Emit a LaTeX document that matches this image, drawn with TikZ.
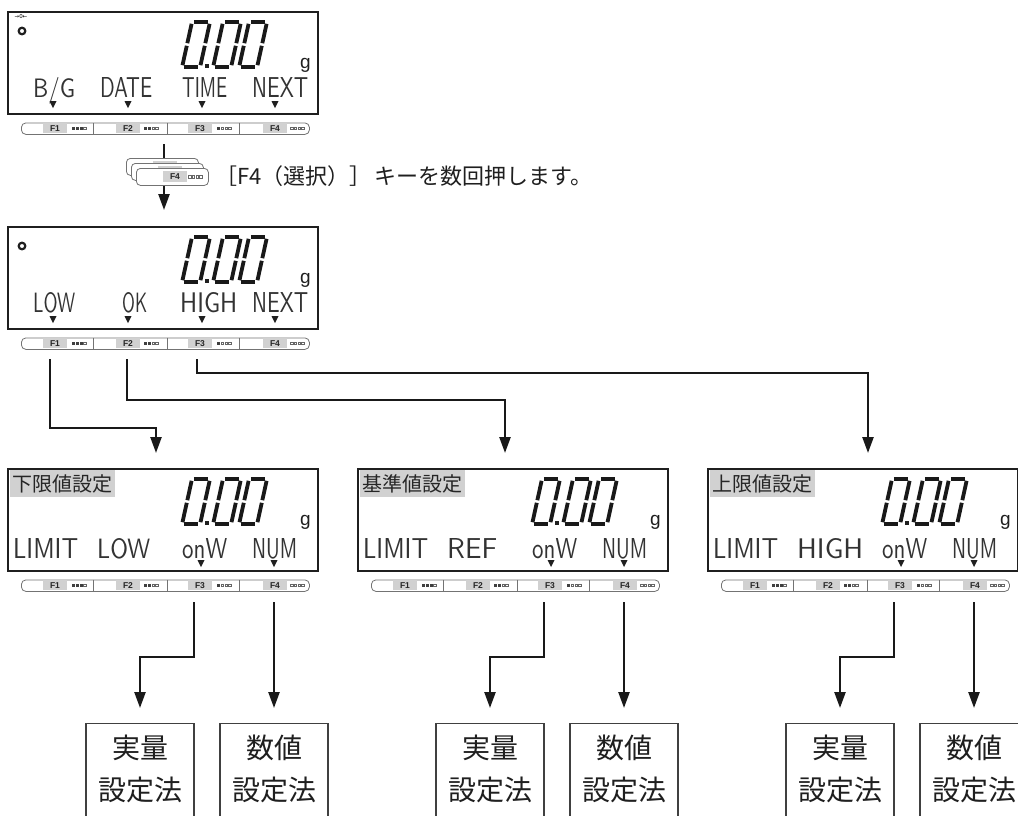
\documentclass[tikz,border=0pt]{standalone}
\usepackage{fontspec}
\usepackage{graphicx}
\newfontfamily\jpfont{Noto Sans CJK JP}
\newfontfamily\arialf{Liberation Sans}
\newfontfamily\djv{DejaVu Sans}
\usetikzlibrary{arrows.meta}

\tikzset{
  screen/.style={draw=black!88, line width=2pt, fill=white, minimum width=310pt, minimum height=102pt, anchor=north west, inner sep=0pt},
  seg/.style={line width=3.8pt, draw=black!90},
  strip/.style={draw=black!55, line width=0.8pt, rounded corners=4.5pt, minimum width=288pt, minimum height=11.5pt, anchor=north west, inner sep=0pt, fill=white},
  stripdiv/.style={draw=black!55, line width=0.8pt},
  flab/.style={fill=black!18, minimum width=24pt, minimum height=10pt, inner sep=0pt, font=\arialf\bfseries\fontsize{8.5}{9}\selectfont, text=black!85},
  lcd/.style={anchor=base west, inner sep=0pt, text=black!80},
  tri/.style={fill=black!88},
  conn/.style={line width=2.4pt, draw=black!90, -{Triangle[length=16pt,width=11pt]}},
  mbox/.style={draw=black!75, line width=1.4pt, minimum width=108pt, minimum height=120pt, anchor=north, inner sep=0pt},
  mtext/.style={font=\jpfont\fontsize{28}{42}\selectfont, align=center, inner sep=0pt, text=black!88},
  ttl/.style={fill=black!18, anchor=north west, inner xsep=2.5pt, inner ysep=0pt, minimum height=27pt, font=\jpfont\fontsize{20}{20}\selectfont, text=black!85},
  unitg/.style={anchor=base west, inner sep=0pt, font=\arialf\fontsize{19}{19}\selectfont, text=black!88},
  keyic/.style={draw=black!55, line width=0.8pt, rounded corners=4pt, fill=white, minimum width=72pt, minimum height=17pt, anchor=north west, inner sep=0pt},
  hintst/.style={anchor=west, inner sep=0pt, font=\jpfont\fontsize{22}{22}\selectfont, text=black!88},
}

\newcommand\SegZero[2]{%
  \begin{scope}[shift={(#1,#2)}, xslant=0.22]
    \draw[seg] (1.8,0) -- (16.2,0);
    \draw[seg] (18,1.8) -- (18,21.2);
    \draw[seg] (18,23.8) -- (18,43.2);
    \draw[seg] (1.8,45) -- (16.2,45);
    \draw[seg] (0,23.8) -- (0,43.2);
    \draw[seg] (0,1.8) -- (0,21.2);
  \end{scope}}

\newcommand\Squares[3]{%
  \foreach \i in {0,1,2,3}{%
    \ifnum\i<#3\relax
      \fill[black!75] (#1+\i*3.8,#2-1.5) rectangle ++(3,3);
    \else
      \draw[black!60,line width=0.5pt] (#1+\i*3.8+0.25,#2-1.25) rectangle ++(2.5,2.5);
    \fi}}

\newcommand\Tri[2]{\fill[tri] (#1-3.5,#2) -- (#1+3.5,#2) -- (#1,#2+7) -- cycle;}

\newcommand\Lcd[5]{\node[lcd] (#1) at (#2,#3) {\resizebox{#4pt}{20pt}{\sffamily #5}};}

% name, left, top
\newcommand\Screen[3]{%
  \node[screen] (#1) at (#2,#3) {};
  \SegZero{#2+185}{#3+11}
  \SegZero{#2+216}{#3+11}
  \SegZero{#2+242}{#3+11}
  \fill[black!88] (#2+197.5,#3+52.5) rectangle ++(4,4);
  \node[unitg] (#1-g) at (#2+293,#3+57) {g};
  \node[strip] (#1-s) at (#2+14,#3+111.5) {};
  \draw[stripdiv] (#2+86,#3+111.5) -- ++(0,11.5);
  \draw[stripdiv] (#2+160,#3+111.5) -- ++(0,11.5);
  \draw[stripdiv] (#2+232,#3+111.5) -- ++(0,11.5);
  \node[flab] (#1-f1) at (#2+48,#3+117.25) {F1};
  \node[flab] (#1-f2) at (#2+121,#3+117.25) {F2};
  \node[flab] (#1-f3) at (#2+193,#3+117.25) {F3};
  \node[flab] (#1-f4) at (#2+268,#3+117.25) {F4};
  \Squares{#2+65}{#3+117.25}{3}
  \Squares{#2+137}{#3+117.25}{2}
  \Squares{#2+210}{#3+117.25}{1}
  \Squares{#2+283}{#3+117.25}{0}
}

\newcommand\KeyIcon[3]{%
  \node[keyic] (#1) at (#2,#3) {};
  \node[flab, minimum height=11pt] (#1-l) at (#2+39,#3+8.5) {F4};
  \Squares{#2+52}{#3+8.5}{0}
}

% name, left
\newcommand\Lower[2]{%
  \coordinate (#1q3) at (#2+187,602);
  \coordinate (#1q4) at (#2+267,602);
  \coordinate (#1t1) at (#2+133,708);
  \coordinate (#1t2) at (#2+267,708);
  \draw[conn] (#1q3) |- (#1t1 |- 0,657) -- (#1t1);
  \draw[conn] (#1q4) -- (#1t2);
  \node[mbox] (#1b1) at (#2+133,723) {};
  \node[mbox] (#1b2) at (#2+267,723) {};
  \node[mtext] (#1x1) at (#2+133,769) {実量\\設定法};
  \node[mtext] (#1x2) at (#2+267,769) {数値\\設定法};
}

\begin{document}
\begin{tikzpicture}[x=1pt,y=-1pt]
\useasboundingbox (0,0) rectangle (1018,815);
\clip (0,0) rectangle (1018,815);
\fill[white] (0,0) rectangle (1018,815);

% ---------- top display ----------
\Screen{d0}{7}{11}
\node[inner sep=0pt, font=\djv\fontsize{5.5}{5.5}\selectfont] (z0) at (21,16) {→0←};
\draw[line width=2.2pt, black!88] (22,31) circle[radius=3.3pt];
\Lcd{d0l1}{33}{97}{42}{B/G}
\Lcd{d0l2}{100}{97}{52}{DATE}
\Lcd{d0l3}{182}{97}{45}{TIME}
\Lcd{d0l4}{252}{97}{56}{NEXT}
\Tri{53}{101}\Tri{128}{101}\Tri{202}{101}\Tri{275}{101}

% ---------- F4 key hint ----------
\coordinate (a0) at (164,144);
\coordinate (a1) at (164,210);
\draw[conn] (a0) -- (a1);
\KeyIcon{k1}{126}{158}
\KeyIcon{k2}{131}{163}
\KeyIcon{k3}{136}{168}
\node[hintst] (hint) at (215,176) {［F4（選択）］\hspace{3pt}キーを数回押します。};

% ---------- second display ----------
\Screen{d1}{7}{226}
\draw[line width=2.2pt, black!88] (22,246) circle[radius=3.3pt];
\Lcd{d1l1}{33}{312}{42}{LOW}
\Lcd{d1l2}{122}{312}{25}{OK}
\Lcd{d1l3}{180}{312}{57}{HIGH}
\Lcd{d1l4}{252}{312}{56}{NEXT}
\Tri{53}{316}\Tri{128}{316}\Tri{202}{316}\Tri{275}{316}

% ---------- connectors to the three setting screens ----------
\coordinate (p1) at (50,359);
\coordinate (p2) at (127,359);
\coordinate (p3) at (197,359);
\coordinate (tA) at (156,453);
\coordinate (tB) at (505,453);
\coordinate (tC) at (868,453);
\draw[conn] (p3) |- (tC |- 0,373) -- (tC);
\draw[conn] (p2) |- (tB |- 0,400) -- (tB);
\draw[conn] (p1) |- (tA |- 0,428) -- (tA);

% ---------- lower screens ----------
\Screen{dA}{7}{468}
\Screen{dB}{357}{468}
\Screen{dC}{707}{468}
\node[ttl] (hA) at (10,470) {下限値設定};
\node[ttl] (hB) at (360,470) {基準値設定};
\node[ttl] (hC) at (710,470) {上限値設定};

\Lcd{dAl1}{13}{558}{65}{LIMIT}
\Lcd{dAl2}{97}{558}{53}{LOW}
\Lcd{dAl3}{182}{558}{45}{onW}
\Lcd{dAl4}{252}{558}{45}{NUM}
\Tri{201}{560}\Tri{274}{560}

\Lcd{dBl1}{363}{558}{65}{LIMIT}
\Lcd{dBl2}{447}{558}{50}{REF}
\Lcd{dBl3}{532}{558}{45}{onW}
\Lcd{dBl4}{602}{558}{45}{NUM}
\Tri{551}{560}\Tri{624}{560}

\Lcd{dCl1}{713}{558}{65}{LIMIT}
\Lcd{dCl2}{797}{558}{66}{HIGH}
\Lcd{dCl3}{882}{558}{45}{onW}
\Lcd{dCl4}{952}{558}{45}{NUM}
\Tri{901}{560}\Tri{974}{560}

\Lower{A}{7}
\Lower{B}{357}
\Lower{C}{707}
\end{tikzpicture}
\end{document}
